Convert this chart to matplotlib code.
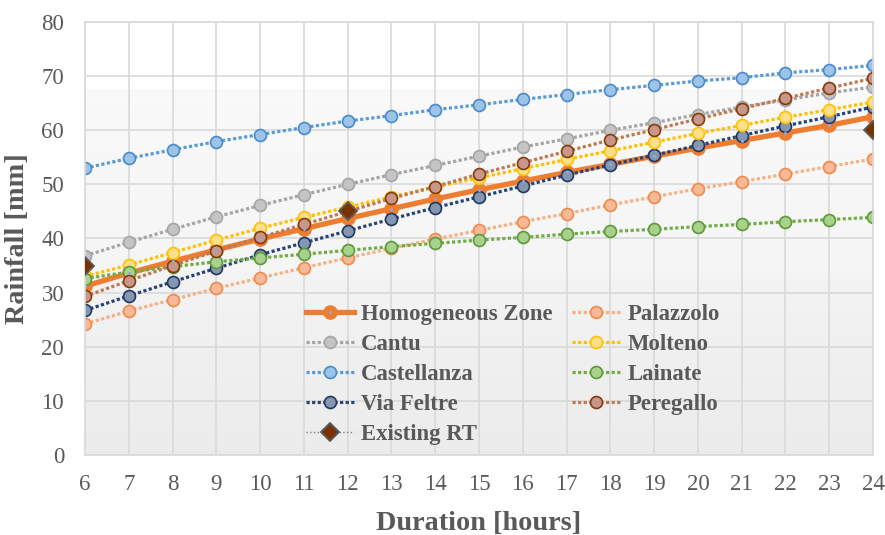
import numpy as np
import matplotlib
matplotlib.use('Agg')
import matplotlib.pyplot as plt
from matplotlib import rc
from matplotlib.legend_handler import HandlerTuple

# rainfall depth vs duration, one series per station
hours = list(range(6, 25))

homogeneous = [31.2, 33.6, 35.8, 37.9, 39.9, 41.8, 43.7, 45.5, 47.3, 49.0,
               50.6, 52.2, 53.7, 55.2, 56.7, 58.1, 59.5, 60.9, 62.5]
cantu = [36.8, 39.3, 41.7, 44.0, 46.1, 48.1, 50.0, 51.8, 53.5, 55.2,
         56.9, 58.4, 60.0, 61.4, 62.9, 64.3, 65.6, 66.9, 68.0]
castellanza = [53.0, 54.8, 56.4, 57.9, 59.2, 60.5, 61.7, 62.7, 63.8, 64.7,
               65.7, 66.6, 67.5, 68.3, 69.1, 69.7, 70.6, 71.2, 72.0]
via_feltre = [26.7, 29.4, 32.0, 34.5, 37.0, 39.2, 41.4, 43.6, 45.7, 47.7,
              49.7, 51.7, 53.6, 55.4, 57.2, 59.0, 60.8, 62.5, 64.3]
existing_rt = [35.0, None, None, None, None, None, 45.0, None, None, None,
               None, None, None, None, None, None, None, None, 60.0]
palazzolo = [24.2, 26.6, 28.7, 30.8, 32.7, 34.6, 36.4, 38.2, 39.9, 41.5,
             43.1, 44.6, 46.2, 47.7, 49.2, 50.5, 51.9, 53.3, 54.7]
molteno = [33.0, 35.1, 37.4, 39.7, 41.9, 43.9, 45.8, 47.7, 49.5, 51.2,
           52.9, 54.6, 56.2, 57.8, 59.4, 60.9, 62.4, 63.8, 65.2]
lainate = [32.6, 33.8, 34.8, 35.7, 36.4, 37.1, 37.8, 38.5, 39.1, 39.7,
           40.2, 40.8, 41.3, 41.7, 42.2, 42.6, 43.1, 43.5, 43.9]
peregallo = [29.3, 32.2, 35.0, 37.7, 40.2, 42.6, 45.0, 47.4, 49.6, 51.9,
             54.0, 56.1, 58.2, 60.1, 62.1, 64.0, 65.9, 67.8, 69.6]

rc('font', family=['Liberation Serif', 'DejaVu Serif'])

fig = plt.figure(figsize=(8.85, 5.35), dpi=100)
ax = fig.add_axes([85/885., 1-455/535., (873-85)/885., (455-22)/535.])

# shaded panel behind the curves
top = np.linspace(0.978, 0.962, 100)
bot = np.linspace(0.955, 0.925, 100)
shade = np.concatenate([top, bot])[:, None] * np.ones((1, 2))
rgb = np.dstack([shade, shade, shade])
ax.imshow(rgb, extent=[6, 24, 0, 67.5], aspect='auto', zorder=0.1,
          interpolation='bilinear')

dot = (0, (1.0, 0.75))
lw = 2.3
ms = 8.6
handles = []

def station(y, line, face, edge, label):
    h, = ax.plot(hours, y, linestyle=dot, lw=lw, color=line, marker='o', ms=ms,
                 mfc=face, mec=edge, mew=1.2, label=label, dash_capstyle='butt')
    handles.append(h)

hz, = ax.plot(hours, homogeneous, '-', lw=3.8, color='#ED7D31', marker='o',
              ms=9.5, mfc='#ED7D31', mec='#ED7D31', zorder=2)
hz_dot, = ax.plot(hours, homogeneous, ls='none', marker='o', ms=2.2,
                  mfc='#8EA9DB', mec='none', zorder=2.1)
handles.append((hz, hz_dot))
station(cantu, '#A5A5A5', '#C4C4C4', '#A5A5A5', 'Cantu')
station(castellanza, '#5B9BD5', '#9DC3E6', '#4A8BCB', 'Castellanza')
station(via_feltre, '#264478', '#8496B0', '#203864', 'Via Feltre')
rt = np.array([np.nan if v is None else v for v in existing_rt])
h_rt, = ax.plot(hours, rt, linestyle=':', lw=1.0, color='#7F7F7F', marker='D',
                ms=9.5, mfc='#7A3300', mec='#595959', mew=1.3, zorder=5)
handles.append(h_rt)
station(palazzolo, '#F4B183', '#F8B999', '#F08A4B', 'Palazzolo')
station(molteno, '#FFC000', '#FFE08A', '#FFC000', 'Molteno')
station(lainate, '#70AD47', '#A9D18E', '#5E9A38', 'Lainate')
station(peregallo, '#BE7A50', '#C9968A', '#843C0C', 'Peregallo')

labels = ['Homogeneous Zone', 'Cantu', 'Castellanza', 'Via Feltre',
          'Existing RT', 'Palazzolo', 'Molteno', 'Lainate', 'Peregallo']

ax.set_xlim(6, 24)
ax.set_ylim(0, 80)
ax.set_xticks(hours)
ax.set_yticks(range(0, 81, 10))
ax.set_axisbelow(True)
ax.grid(True, color='#D9D9D9', lw=1.2, zorder=0.5)
for s in ax.spines.values():
    s.set_color('#D9D9D9')
    s.set_linewidth(1.2)
ax.tick_params(length=0, pad=15, labelsize=16.5, colors='#595959')
ax.tick_params(axis='x', pad=14)

ax.set_xlabel('Duration [hours]', fontsize=20.3, fontweight='bold',
              color='#595959', labelpad=11)
ax.set_ylabel('Rainfall [mm]', fontsize=20.3, fontweight='bold',
              color='#595959', labelpad=8)

leg = ax.legend(handles, labels, ncol=2, loc='upper left', frameon=False,
                bbox_to_anchor=(306/885., 1-304/535.),
                bbox_transform=fig.transFigure, borderpad=0, borderaxespad=0,
                handlelength=2.1, handletextpad=0.33, columnspacing=0.85,
                labelspacing=0.39, prop={'weight': 'bold', 'size': 16.4},
                handler_map={tuple: HandlerTuple(ndivide=1)})
for t in leg.get_texts():
    t.set_color('#595959')

fig.savefig('out.png', dpi=100)
